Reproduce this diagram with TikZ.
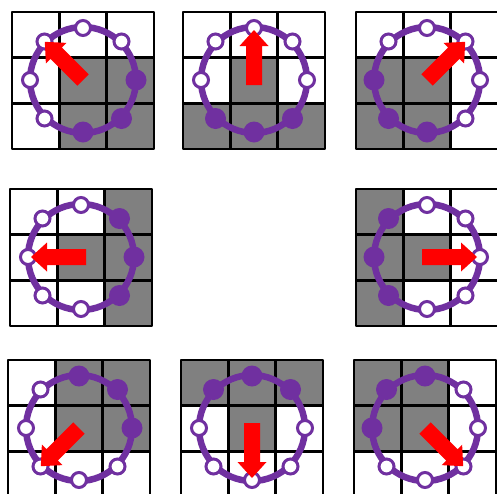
\documentclass[tikz,border=0pt]{standalone}
\definecolor{ringpurple}{HTML}{7030A0}
\definecolor{cellgray}{HTML}{808080}
\tikzset{
 gridline/.style={black,line width=2.6pt,line join=round},
 ring/.style={ringpurple,line width=6.5pt},
 hollowdot/.style={circle,draw=ringpurple,fill=white,line width=3pt,minimum size=15pt,inner sep=0pt},
 fulldot/.style={circle,fill=ringpurple,minimum size=21pt,inner sep=0pt},
 redarrow/.style={fill=red},
}
\newcommand\drawtile[6]{%
 \begin{scope}[shift={(#2,#3)}]
  \foreach \c/\r in {#4} \fill[cellgray] ({(\c-1)*142/3},{(\r-1)*137/3}) rectangle ++(142/3,137/3);
  \draw[gridline] (0,0) rectangle (142,137);
  \draw[gridline] (142/3,0) -- (142/3,137) (284/3,0) -- (284/3,137) (0,137/3) -- (142,137/3) (0,274/3) -- (142,274/3);
 \end{scope}
 \begin{scope}[shift={({#2+71},{#3+68})}]
  \coordinate (#1-c) at (0,0);
  \draw[ring] (0,0) circle[radius=53];
  \foreach \k/\dx/\dy in {0/53/0,1/38.5/-38.5,2/0/-52,3/-38.5/-38.5,4/-53/0,5/-38.5/38.5,6/0/52,7/38.5/38.5} {
   \node[hollowdot] (#1-\k) at (\dx,\dy) {};
   \foreach \f in {#5} {\ifnum\f=\k\relax \node[fulldot] (#1-f\k) at (\dx,\dy) {};\fi}
  }
  \pgfmathsetmacro\ang{45*#6}
  \ifodd#6 \def\ta{0}\def\tb{54}\else\def\ta{-5}\def\tb{50}\fi
  \fill[redarrow,rotate=\ang] (\ta,-8) -- ({\tb-16},-8) -- ({\tb-16},-14.5) -- (\tb,0) -- ({\tb-16},14.5) -- ({\tb-16},8) -- (\ta,8) -- cycle;
 \end{scope}
}
\begin{document}
\begin{tikzpicture}[x=1pt,y=-1pt]
\useasboundingbox (0,0) rectangle (497,493);
\clip (0,0) rectangle (497,493);
\fill[white] (0,0) rectangle (497,493);
\drawtile{t1}{12}{12}{2/2,3/2,2/3,3/3}{0,7,6}{3}
\drawtile{t2}{183}{12}{2/2,1/3,2/3,3/3}{5,6,7}{2}
\drawtile{t3}{356}{12}{1/2,2/2,1/3,2/3}{4,5,6}{1}
\drawtile{t4}{10}{189}{3/1,2/2,3/2,3/3}{1,0,7}{4}
\drawtile{t5}{356}{189}{1/1,1/2,2/2,1/3}{3,4,5}{0}
\drawtile{t6}{8}{360}{2/1,3/1,2/2,3/2}{2,1,0}{5}
\drawtile{t7}{181}{360}{1/1,2/1,3/1,2/2}{3,2,1}{6}
\drawtile{t8}{354}{360}{1/1,2/1,1/2,2/2}{3,2,4}{7}
\end{tikzpicture}
\end{document}
